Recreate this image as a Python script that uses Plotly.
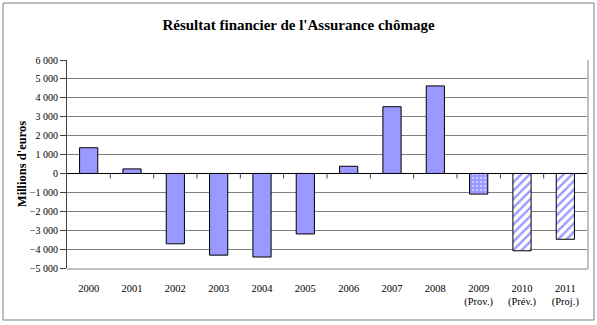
import plotly.graph_objects as go

years = ["2000", "2001", "2002", "2003", "2004", "2005", "2006", "2007", "2008",
         "2009<br>(Prov.)", "2010<br>(Prév.)", "2011<br>(Proj.)"]
values = [1360, 240, -3720, -4320, -4420, -3200, 380, 3530, 4630, -1090, -4090, -3480]
patterns = ["", "", "", "", "", "", "", "", "", ".", "/", "/"]

BLUE = "#9999ff"
fg = ["#ddddff" if p == "." else BLUE for p in patterns]
bg = [BLUE if p != "/" else "white" for p in patterns]

fig = go.Figure()
fig.add_trace(go.Bar(
    x=list(range(len(years))), y=values, width=0.42,
    marker=dict(color=BLUE, line=dict(color="black", width=1),
                pattern=dict(shape=patterns, fgcolor=fg, bgcolor=bg,
                             size=[6 if p == "/" else 4 for p in patterns],
                             solidity=[0.4 if p == "/" else 0.2 for p in patterns],
                             fillmode="replace")),
    showlegend=False, hoverinfo="skip",
))

serif = "Liberation Serif, Times New Roman, serif"
shapes = []
# category boundary ticks on zero line
for i in range(1, len(years)):
    shapes.append(dict(type="line", xref="x", yref="y", x0=i - 0.5, x1=i - 0.5,
                       ysizemode="pixel", yanchor=0, y0=0, y1=-5,
                       line=dict(color="#404040", width=1)))
# plot area right/bottom border (light)
shapes.append(dict(type="line", xref="paper", yref="paper", x0=1.002, x1=1.002, y0=-0.005, y1=1,
                   line=dict(color="#c0c0c0", width=2)))
shapes.append(dict(type="line", xref="paper", yref="paper", x0=0, x1=1.002, y0=-0.005, y1=-0.005,
                   line=dict(color="#c0c0c0", width=2)))
# outer chart border
shapes.append(dict(type="rect", xref="paper", yref="paper", x0=-0.123, x1=1.0135, y0=-0.25, y1=1.274,
                   line=dict(color="#808080", width=1), fillcolor="rgba(0,0,0,0)"))

fig.update_layout(
    width=597, height=325,
    margin=dict(l=67, r=10, t=60, b=57),
    paper_bgcolor="white", plot_bgcolor="white",
    font=dict(family=serif, size=10, color="black"),
    title=dict(text="<b>Résultat financier de l'Assurance chômage</b>",
               x=0.5, xref="container", xanchor="center", y=0.925, yanchor="middle",
               font=dict(family=serif, size=15, color="black")),
    bargap=0.58,
    shapes=shapes,
    separators=", ",
)
fig.update_xaxes(
    tickmode="array", tickvals=list(range(len(years))), ticktext=years,
    range=[-0.5, len(years) - 0.5], showgrid=False, showline=False, ticks="",
    zeroline=False, tickfont=dict(family=serif, size=10.5), ticklabelstandoff=12,
)
fig.update_yaxes(
    range=[-5000, 6000], dtick=1000, tickformat=",d", separatethousands=True,
    showgrid=True, gridcolor="#808080", gridwidth=1,
    showline=True, linecolor="#404040", linewidth=1,
    ticks="outside", ticklen=6, tickcolor="#404040",
    zeroline=True, zerolinecolor="black", zerolinewidth=1,
    tickfont=dict(family=serif, size=10),
    title=dict(text="<b>Millions d'euros</b>", font=dict(family=serif, size=12.5), standoff=0),
)

fig.write_html("out.html")
